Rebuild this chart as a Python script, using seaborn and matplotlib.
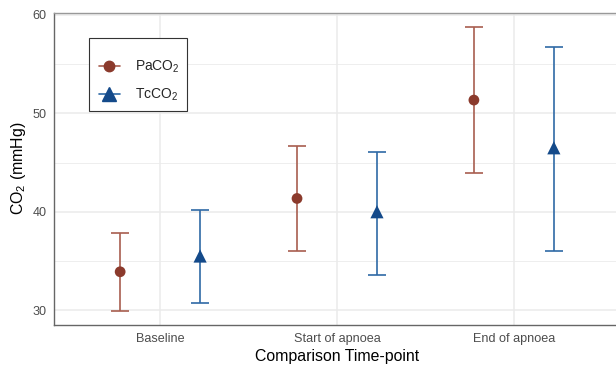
import numpy as np
import pandas as pd
import matplotlib
matplotlib.use("Agg")
import matplotlib.pyplot as plt
import seaborn as sns
from matplotlib.lines import Line2D
from matplotlib.patches import Rectangle
from matplotlib.ticker import MultipleLocator

# ---- data ----
timepoints = ["Baseline", "Start of apnoea", "End of apnoea"]
series_names = ["PaCO$_2$", "TcCO$_2$"]
paco2_mean = [33.9, 41.35, 51.35]
paco2_low = [29.93, 36.0, 43.9]
paco2_high = [37.84, 46.7, 58.8]
tcco2_mean = [35.5, 40.0, 46.5]
tcco2_low = [30.7, 33.6, 36.05]
tcco2_high = [40.13, 46.1, 56.7]

# ---- style ----
sns.set_theme(style="whitegrid")
plt.rcParams['font.family'] = ['Liberation Sans', 'DejaVu Sans']
plt.rcParams['mathtext.fontset'] = 'custom'
plt.rcParams['mathtext.rm'] = 'Liberation Sans'
plt.rcParams['mathtext.it'] = 'Liberation Sans:italic'
plt.rcParams['mathtext.bf'] = 'Liberation Sans:bold'

point_cols = {"PaCO$_2$": "#8B3A2C", "TcCO$_2$": "#144A8A"}
bar_cols = {"PaCO$_2$": "#A85E4F", "TcCO$_2$": "#2F69A6"}
markers = {"PaCO$_2$": "o", "TcCO$_2$": "^"}
offsets = {"PaCO$_2$": -0.226, "TcCO$_2$": 0.226}

rows = []
for name, m, lo, hi in [(series_names[0], paco2_mean, paco2_low, paco2_high),
                        (series_names[1], tcco2_mean, tcco2_low, tcco2_high)]:
    for i, t in enumerate(timepoints):
        rows.append(dict(series=name, timepoint=t, pos=i + offsets[name],
                         mean=m[i], low=lo[i], high=hi[i]))
df = pd.DataFrame(rows)

fig = plt.figure(figsize=(6.16, 3.66), dpi=100)
ax = fig.add_axes([54 / 616, 41 / 366, (620 - 54) / 616, (353.4 - 41) / 366])

for name in series_names:
    d = df[df.series == name]
    ax.errorbar(d["pos"], d["mean"],
                yerr=[d["mean"] - d["low"], d["high"] - d["mean"]],
                fmt="none", ecolor=bar_cols[name], elinewidth=1.2,
                capsize=6.4, capthick=1.2, zorder=2)

sns.scatterplot(data=df, x="pos", y="mean", hue="series", style="series",
                palette=point_cols, markers=markers, size="series",
                sizes={"PaCO$_2$": 60, "TcCO$_2$": 90},
                linewidth=0, legend=False, ax=ax, zorder=3)

ax.set_xlim(-0.6, 2.6)
ax.set_ylim(28.49, 60.24)
ax.set_xticks(range(len(timepoints)))
ax.set_xticklabels(timepoints)
ax.set_yticks([30, 40, 50, 60])
ax.yaxis.set_minor_locator(MultipleLocator(5))

ax.grid(which="major", color="#EBEBEB", linewidth=1.1)
ax.grid(which="minor", axis="y", color="#EBEBEB", linewidth=0.6)
ax.set_axisbelow(True)

ax.tick_params(axis="both", which="major", length=3, width=0.9, color="#333333",
               labelsize=9.1, labelcolor="#4D4D4D", pad=2.5)
ax.tick_params(axis="both", which="minor", length=0)

for side in ["left", "bottom"]:
    ax.spines[side].set_color("#666666")
    ax.spines[side].set_linewidth(1.0)
ax.spines["top"].set_color("#999999")
ax.spines["top"].set_linewidth(1.0)
ax.spines["right"].set_visible(False)

ax.set_xlabel("Comparison Time-point", fontsize=11.4, color="black", labelpad=3)
ax.set_ylabel("CO$_2$ (mmHg)", fontsize=11.4, color="black", labelpad=3)

# legend frame drawn separately
frame = Rectangle((89 / 616, 1 - 111 / 366), 98 / 616, 73 / 366,
                  transform=fig.transFigure, facecolor="white",
                  edgecolor="#333333", linewidth=0.8, zorder=5, clip_on=False)
ax.add_patch(frame)

handles = [Line2D([0], [0], color=bar_cols[n], lw=1.2, marker=markers[n],
                  markerfacecolor=point_cols[n], markeredgecolor=point_cols[n],
                  markersize=7.5 if n == series_names[0] else 9.5)
           for n in series_names]
leg = ax.legend(handles, series_names, loc="upper left",
                bbox_to_anchor=(99 / 616, 1 - 59 / 366), bbox_transform=fig.transFigure,
                borderaxespad=0, borderpad=0, frameon=False, fontsize=10,
                handlelength=1.5, handletextpad=1.1, labelspacing=0.8)
leg.set_zorder(6)

fig.savefig("out.png", dpi=100)
